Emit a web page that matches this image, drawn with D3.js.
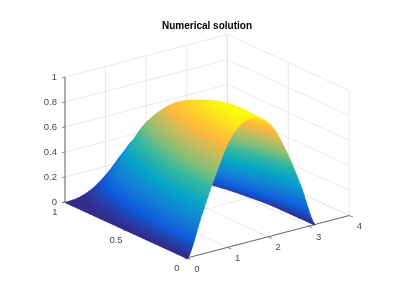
<!DOCTYPE html>
<html>
<head>
<meta charset="utf-8">
<script src="https://cdn.jsdelivr.net/npm/d3@7"></script>
<style>
  html, body { margin: 0; background: #fff; }
  svg { display: block; filter: blur(0.3px); }
  text { font-family: "Liberation Sans", sans-serif; }
</style>
</head>
<body>
<script>
// values
const xValues = [0, 0.349, 0.698, 1.047, 1.396, 1.745, 2.094, 2.443, 2.793, 3.142];
const yValues = [0, 0.2, 0.4, 0.6, 0.8, 1];
const solution = [
  [0, 0.32, 0.62, 0.87, 0.98, 0.98, 0.87, 0.64, 0.34, 0],
  [0, 0.28, 0.60, 0.84, 0.975, 0.985, 0.78, 0.52, 0.22, 0],
  [0, 0.20, 0.50, 0.77, 0.92, 0.92, 0.62, 0.33, 0.10, 0],
  [0, 0.12, 0.36, 0.63, 0.83, 0.80, 0.50, 0.20, 0.05, 0],
  [0, 0.05, 0.22, 0.44, 0.61, 0.60, 0.33, 0.09, 0.015, 0],
  [0, 0.012, 0.06, 0.15, 0.27, 0.36, 0.22, 0.05, 0.008, 0]
];
const xTicks = [0, 1, 2, 3, 4];
const yTicks = [0, 0.5, 1];
const zTicks = [0, 0.2, 0.4, 0.6, 0.8, 1];
const parulaDomain = [0, 0.125, 0.25, 0.375, 0.5, 0.625, 0.75, 0.82, 0.875, 1];
const parulaStops = ["#352a87", "#0f5cdd", "#1481d6", "#06a4ca", "#2eb7a4", "#87bf77", "#d1bb59", "#fbb83e", "#fec832", "#f9fb0e"];

const width = 416, height = 284;

const svg = d3.select("body").append("svg")
  .attr("width", width)
  .attr("height", height);

// axes box, projected by hand: the three scales give the position along each edge
const origin = [187, 258];
const xEnd = [162.3, -42.5];
const yEnd = [-122, -56];
const zEnd = [0, -125];

const xScale = d3.scaleLinear().domain([0, 4]).range([0, 1]);
const yScale = d3.scaleLinear().domain([0, 1]).range([0, 1]);
const zScale = d3.scaleLinear().domain([0, 1]).range([0, 1]);

const colorScale = d3.scaleLinear()
  .domain(parulaDomain)
  .range(parulaStops);

function project(x, y, z) {
  const a = xScale(x), b = yScale(y), c = zScale(z);
  return [
    origin[0] + a * xEnd[0] + b * yEnd[0] + c * zEnd[0],
    origin[1] + a * xEnd[1] + b * yEnd[1] + c * zEnd[1]
  ];
}

function line3d(g, p, q, color, w) {
  const a = project(...p), b = project(...q);
  g.append("line")
    .attr("x1", a[0]).attr("y1", a[1])
    .attr("x2", b[0]).attr("y2", b[1])
    .attr("stroke", color)
    .attr("stroke-width", w);
}

//grid on floor and walls
const gridColor = "#e3e3e3";
const grid = svg.append("g");
xTicks.forEach(t => {
  line3d(grid, [t, 0, 0], [t, 1, 0], gridColor, 0.8);
  line3d(grid, [t, 1, 0], [t, 1, 1], gridColor, 0.8);
});
yTicks.forEach(t => {
  line3d(grid, [0, t, 0], [4, t, 0], gridColor, 0.8);
  line3d(grid, [4, t, 0], [4, t, 1], gridColor, 0.8);
});
zTicks.forEach(t => {
  line3d(grid, [0, 1, t], [4, 1, t], gridColor, 0.8);
  line3d(grid, [4, 1, t], [4, 0, t], gridColor, 0.8);
});

//axis lines come before the surface, it sits on top of them
const axisColor = "#6a6a6a";
const axes = svg.append("g");
line3d(axes, [0, 0, 0], [4, 0, 0], axisColor, 1);
line3d(axes, [0, 0, 0], [0, 1, 0], axisColor, 1);
line3d(axes, [0, 1, 0], [0, 1, 1], axisColor, 1);
xTicks.forEach(t => line3d(axes, [t, 0, 0], [t, -0.03, 0], axisColor, 0.8));
yTicks.forEach(t => line3d(axes, [0, t, 0], [-0.06, t, 0], axisColor, 0.8));
zTicks.forEach(t => line3d(axes, [0, 1, t], [-0.07, 1, t], axisColor, 0.8));

// smooth shading of the table (like shading interp)
function catmull(p0, p1, p2, p3, t) {
  return 0.5 * (2 * p1 + (p2 - p0) * t + (2 * p0 - 5 * p1 + 4 * p2 - p3) * t * t + (3 * p1 - p0 - 3 * p2 + p3) * t * t * t);
}
function at(arr, i) {
  return arr[Math.max(0, Math.min(arr.length - 1, i))];
}
function sampleZ(i, j, u, v) {
  const rows = [-1, 0, 1, 2].map(dj => {
    const row = at(solution, j + dj);
    return catmull(at(row, i - 1), at(row, i), at(row, i + 1), at(row, i + 2), u);
  });
  return Math.max(0, catmull(rows[0], rows[1], rows[2], rows[3], v));
}

// surface painted back to front at 3x on a canvas, then put in the svg as an image
const ss = 3;
const canvas = d3.create("canvas").attr("width", width * ss).attr("height", height * ss).node();
const ctx = canvas.getContext("2d");
const img = ctx.createImageData(width * ss, height * ss);

const colorLut = d3.range(512).map(k => d3.rgb(colorScale(k / 511)));

const stepsX = 120, stepsY = 130;
// far corner is high x, high y
for (let i = xValues.length - 2; i >= 0; i--) {
  for (let a = stepsX - 1; a >= 0; a--) {
    const u = a / stepsX;
    const x = xValues[i] + u * (xValues[i + 1] - xValues[i]);
    for (let j = yValues.length - 2; j >= 0; j--) {
      for (let b = stepsY - 1; b >= 0; b--) {
        const v = b / stepsY;
        const y = yValues[j] + v * (yValues[j + 1] - yValues[j]);
        const z = sampleZ(i, j, u, v);
        const p = project(x, y, z);
        const px = Math.round(p[0] * ss), py = Math.round(p[1] * ss);
        const c = colorLut[Math.max(0, Math.min(511, Math.round(z * 511)))];
        for (let dx = 0; dx < 3; dx++) {
          for (let dy = 0; dy < 3; dy++) {
            const k = ((py + dy) * width * ss + px + dx) * 4;
            img.data[k] = c.r;
            img.data[k + 1] = c.g;
            img.data[k + 2] = c.b;
            img.data[k + 3] = 255;
          }
        }
      }
    }
  }
}
ctx.putImageData(img, 0, 0);

svg.append("image")
  .attr("x", 0).attr("y", 0)
  .attr("width", width).attr("height", height)
  .attr("href", canvas.toDataURL());

//labels
const labelColor = "#484848";
function tickLabel(text, x, y) {
  svg.append("text")
    .attr("x", x).attr("y", y)
    .attr("text-anchor", "middle")
    .attr("dominant-baseline", "central")
    .attr("font-size", 9.5)
    .attr("fill", labelColor)
    .text(text);
}
xTicks.forEach(t => {
  const p = project(t, 0, 0);
  tickLabel(t, p[0] + 10, p[1] + 10);
});
yTicks.forEach(t => {
  const p = project(0, t, 0);
  tickLabel(t, p[0] - 10, p[1] + 9);
});
zTicks.forEach(t => {
  const p = project(0, 1, t);
  svg.append("text")
    .attr("x", p[0] - 8).attr("y", p[1] - 1)
    .attr("text-anchor", "end")
    .attr("dominant-baseline", "central")
    .attr("font-size", 9.5)
    .attr("fill", labelColor)
    .text(t);
});

svg.append("text")
  .attr("x", 207).attr("y", 29)
  .attr("text-anchor", "middle")
  .attr("font-size", 10)
  .attr("font-weight", "bold")
  .attr("fill", "#000")
  .text("Numerical solution");
</script>
</body>
</html>
